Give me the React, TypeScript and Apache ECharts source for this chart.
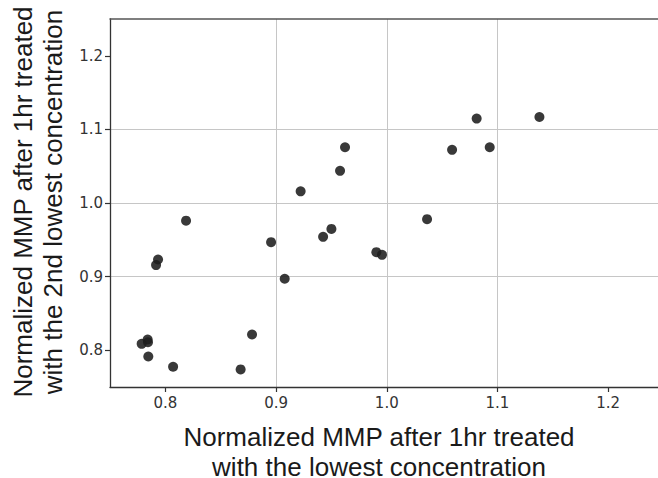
import React, { useEffect, useRef } from "react";
import * as echarts from "echarts";

const xValues = [
  0.8187, 0.7934, 0.7916, 0.8955, 0.9425, 0.950, 0.9906, 0.9957, 0.9078, 0.8783,
  0.868, 0.807, 0.7846, 0.784, 0.7843, 0.7786, 0.9623, 0.9578, 0.9222, 1.0812,
  1.1379, 1.059, 1.093, 1.0364,
];
const yValues = [
  0.976, 0.9232, 0.9156, 0.9468, 0.954, 0.9648, 0.9332, 0.9296, 0.8971, 0.8213,
  0.7739, 0.7775, 0.7915, 0.8145, 0.8108, 0.8087, 1.0758, 1.0437, 1.0158, 1.1147,
  1.1169, 1.0722, 1.0758, 0.978,
];
const tickValues = [0.8, 0.9, 1.0, 1.1, 1.2];
const xTitle = "Normalized MMP after 1hr treated\nwith the lowest concentration";
const yTitle = "Normalized MMP after 1hr treated\nwith the 2nd lowest concentration";

export default function App() {
  const ref = useRef<HTMLDivElement>(null);
  useEffect(() => {
    if (!ref.current) return;
    const chart = echarts.init(ref.current, undefined, { renderer: "svg" });
    const points = xValues.map((x, i) => [x, yValues[i]]);
    const labelStyle = {
      fontFamily: "DejaVu Sans",
      fontSize: 15,
      color: "#333",
      formatter: (v: number) => v.toFixed(1),
    };
    const axisLine = { show: true, lineStyle: { color: "#333", width: 1.3 } };
    const splitLine = {
      show: true,
      showMinLine: false,
      showMaxLine: false,
      lineStyle: { color: "#c6c6c6", width: 1 },
    };
    const axisTick = {
      show: true,
      length: 5,
      inside: false,
      lineStyle: { color: "#333", width: 1.2 },
      customValues: tickValues,
    };
    chart.setOption({
      animation: false,
      backgroundColor: "#ffffff",
      grid: { left: 110, top: 19, right: 0, bottom: 91, containLabel: false },
      xAxis: [
        {
          type: "value",
          min: 0.75,
          max: 1.245,
          splitNumber: 5,
          axisLine,
          axisTick,
          axisLabel: { ...labelStyle, margin: 8, customValues: tickValues },
          splitLine,
        },
        {
          type: "value",
          position: "top",
          min: 0.75,
          max: 1.245,
          axisLine: { show: true, lineStyle: { color: "#555", width: 1.5 } },
          axisTick: { show: false },
          axisLabel: { show: false },
          splitLine: { show: false },
        },
      ],
      yAxis: {
        type: "value",
        min: 0.75,
        max: 1.25,
        splitNumber: 5,
        axisLine,
        axisTick,
        axisLabel: { ...labelStyle, margin: 7, customValues: tickValues },
        splitLine,
      },
      series: [
        {
          type: "scatter",
          xAxisIndex: 0,
          data: points,
          symbolSize: 10,
          itemStyle: { color: "#1e1e1e", opacity: 0.88 },
        },
      ],
      graphic: [
        {
          type: "text",
          x: 379,
          y: 451.5,
          style: {
            text: xTitle,
            fontFamily: "Liberation Sans",
            fontSize: 26,
            lineHeight: 30,
            fill: "#1a1a1a",
            align: "center",
            verticalAlign: "middle",
          },
        },
        {
          type: "text",
          x: 37.5,
          y: 202,
          rotation: Math.PI / 2,
          style: {
            text: yTitle,
            fontFamily: "Liberation Sans",
            fontSize: 26,
            lineHeight: 30,
            fill: "#1a1a1a",
            align: "center",
            verticalAlign: "middle",
          },
        },
      ],
    });
    return () => chart.dispose();
  }, []);
  return (
    <div
      ref={ref}
      style={{ position: "absolute", left: 0, top: 0, width: 658, height: 478 }}
    />
  );
}
